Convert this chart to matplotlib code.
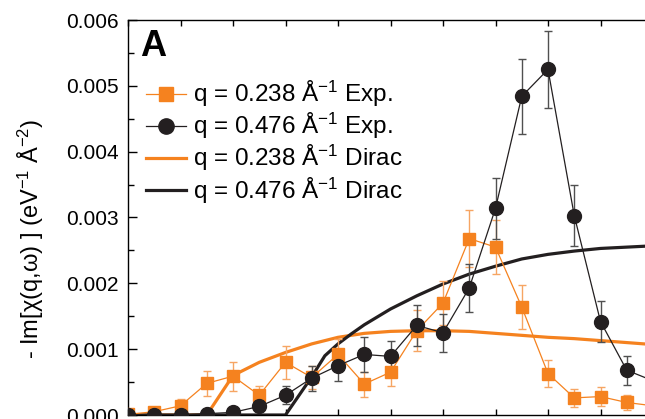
import matplotlib
matplotlib.use('Agg')
import matplotlib.pyplot as plt
from matplotlib.ticker import MultipleLocator, FormatStrFormatter
from matplotlib.lines import Line2D

# Loss function -Im[chi(q,w)] for two momentum transfers, experiment vs. Dirac model
plt.rcParams['font.family'] = ['Liberation Sans', 'DejaVu Sans']
plt.rcParams['mathtext.default'] = 'regular'

# energy axis (tick spacing = 1 unit, no labels visible in the crop)
energy = [0.0, 0.5, 1.0, 1.5, 2.0, 2.5, 3.0, 3.5, 4.0, 4.5, 5.0,
          5.5, 6.0, 6.5, 7.0, 7.5, 8.0, 8.5, 9.0, 9.5, 10.0]

# q = 0.238 1/A, experiment
exp_q238 = [0.00001, 0.00005, 0.00014, 0.00048, 0.00059, 0.00030, 0.00080,
            0.00057, 0.00092, 0.00047, 0.00065, 0.00128, 0.00170, 0.00268,
            0.00255, 0.00164, 0.00063, 0.00026, 0.00028, 0.00019, 0.00014]
err_q238 = [0.00002, 0.00005, 0.00010, 0.00019, 0.00022, 0.00014, 0.00025,
            0.00018, 0.00023, 0.00019, 0.00021, 0.00031, 0.00034, 0.00043,
            0.00041, 0.00034, 0.00021, 0.00014, 0.00014, 0.00012, 0.00010]

# q = 0.476 1/A, experiment
exp_q476 = [0.00000, 0.00000, 0.00000, 0.00002, 0.00004, 0.00013, 0.00030,
            0.00056, 0.00075, 0.00092, 0.00089, 0.00136, 0.00125, 0.00193,
            0.00314, 0.00484, 0.00525, 0.00303, 0.00142, 0.00068, 0.00052]
err_q476 = [0.00002, 0.00002, 0.00002, 0.00003, 0.00003, 0.00006, 0.00014,
            0.00019, 0.00024, 0.00026, 0.00024, 0.00031, 0.00029, 0.00036,
            0.00046, 0.00057, 0.00059, 0.00046, 0.00031, 0.00022, 0.00020]

# Dirac model curves
dirac_x_q238 = [0.0, 1.5, 2.0, 2.5, 3.0, 3.5, 4.0, 4.5, 5.0, 5.5, 6.0,
                6.5, 7.0, 7.5, 8.0, 8.5, 9.0, 9.5, 10.0, 10.5]
dirac_q238 = [0.0, 0.0, 0.00060, 0.00080, 0.00095, 0.00108, 0.00118, 0.00124,
              0.00127, 0.00128, 0.00128, 0.00127, 0.00124, 0.00121, 0.00118,
              0.00116, 0.00113, 0.00110, 0.00107, 0.00105]

dirac_x_q476 = [0.0, 3.0, 3.25, 3.5, 3.75, 4.0, 4.25, 4.5, 5.0, 5.5, 6.0, 6.5,
                7.0, 7.5, 8.0, 8.5, 9.0, 9.5, 10.0, 10.5]
dirac_q476 = [0.0, 0.0, 0.00029, 0.00058, 0.00090, 0.00108, 0.00123, 0.00137,
              0.00161, 0.00181, 0.00199, 0.00214, 0.00226, 0.00237, 0.00244,
              0.00249, 0.00253, 0.00255, 0.00257, 0.00258]

ORANGE = '#f5821f'
ORANGE_ERR = '#f6a563'
BLACK = '#231f20'
BLACK_ERR = '#505050'

fig = plt.figure(figsize=(6.45, 4.19), dpi=100)
ax = fig.add_axes([128 / 645, 4 / 419, 551.25 / 645, 395 / 419])

# Dirac curves underneath the data
ax.plot(dirac_x_q238, dirac_q238, color=ORANGE, lw=2.3, zorder=2)
ax.plot(dirac_x_q476, dirac_q476, color=BLACK, lw=2.3, zorder=2)

# error bars
ax.errorbar(energy, exp_q238, yerr=err_q238, fmt='none', ecolor=ORANGE_ERR,
            elinewidth=1.0, capsize=3, capthick=1.0, zorder=3)
ax.errorbar(energy, exp_q476, yerr=err_q476, fmt='none', ecolor=BLACK_ERR,
            elinewidth=1.0, capsize=3, capthick=1.0, zorder=3)

# experimental points
ax.plot(energy, exp_q238, '-s', color=ORANGE, lw=0.9, ms=8.5, zorder=4)
ax.plot(energy, exp_q476, '-o', color=BLACK, lw=0.9, ms=10, zorder=5)

ax.set_xlim(0, 10.5)
ax.set_ylim(0, 0.006)
ax.xaxis.set_major_locator(MultipleLocator(1))
ax.yaxis.set_major_locator(MultipleLocator(0.001))
ax.yaxis.set_minor_locator(MultipleLocator(0.0005))
ax.yaxis.set_major_formatter(FormatStrFormatter('%.3f'))

ax.tick_params(axis='x', which='both', direction='in', top=True, bottom=True,
               labelbottom=False, length=4.5, width=1)
ax.tick_params(axis='y', which='major', direction='in', length=6.5, width=1,
               labelsize=15, pad=6.5)
ax.tick_params(axis='y', which='minor', direction='in', length=4, width=1)
for sp in ax.spines.values():
    sp.set_linewidth(1.0)

# legend without error bars
handles = [
    Line2D([], [], color=ORANGE, marker='s', ms=9.5, lw=0.9),
    Line2D([], [], color=BLACK, marker='o', ms=11, lw=0.9),
    Line2D([], [], color=ORANGE, lw=2.3),
    Line2D([], [], color=BLACK, lw=2.3),
]
labels = [
    'q = 0.238 Å$^{-1}$ Exp.',
    'q = 0.476 Å$^{-1}$ Exp.',
    'q = 0.238 Å$^{-1}$ Dirac',
    'q = 0.476 Å$^{-1}$ Dirac',
]
ax.legend(handles, labels, loc='upper left', frameon=False, fontsize=17.5,
          bbox_to_anchor=(146 / 645, 1 - 79 / 419), bbox_transform=fig.transFigure,
          borderpad=0, borderaxespad=0, handlelength=1.65, handletextpad=0.3,
          labelspacing=0.08)

fig.text(140 / 645, 1 - 56 / 419, 'A', fontsize=26, fontweight='bold',
         va='baseline', ha='left')

fig.text(31 / 645, 1 - 239 / 419, '- Im[χ(q,ω) ] (eV$^{-1}$ Å$^{-2}$)',
         rotation=90, ha='center', va='center', fontsize=17)

fig.savefig('out.png', dpi=100)
